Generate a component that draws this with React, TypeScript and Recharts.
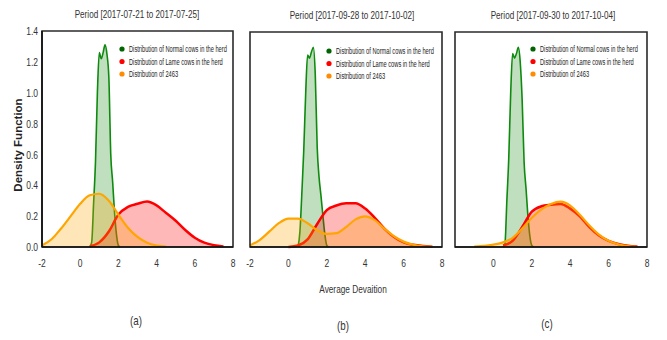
import React from "react";
import { AreaChart, Area, XAxis, YAxis, Legend, ReferenceArea } from "recharts";

const xTicks = [-2, 0, 2, 4, 6, 8];
const yTicks = [0, 0.2, 0.4, 0.6, 0.8, 1.0, 1.2, 1.4];

// fine grid for the narrow "normal cows" peak
const normalX = [0.5, 0.6, 0.7, 0.8, 0.9, 1.0, 1.1, 1.2, 1.3, 1.4, 1.5, 1.6, 1.7, 1.8, 1.9, 2.0, 2.1];
// coarse grid for the wide curves
const wideX = [-2, -1.5, -1, -0.5, 0, 0.5, 1, 1.5, 2, 2.5, 3, 3.5, 4, 4.5, 5, 5.5, 6, 6.5, 7, 7.5, 8];

const seriesNames = [
  "Distribution of Normal cows in the herd",
  "Distribution of Lame cows in the herd",
  "Distribution of 2463",
];

const panelTitles = [
  "Period [2017-07-21 to 2017-07-25]",
  "Period [2017-09-28 to 2017-10-02]",
  "Period [2017-09-30 to 2017-10-04]",
];

// (a)
const normalA = [0, 0.03, 0.28, 0.55, 1.0, 1.26, 1.22, 1.26, 1.31, 1.25, 1.1, 0.6, 0.42, 0.22, 0.08, 0.01, 0];
const lameA = [null, null, null, null, null, 0.005, 0.03, 0.1, 0.21, 0.26, 0.28, 0.295, 0.27, 0.22, 0.17, 0.11, 0.06, 0.028, 0.012, 0.004, null];
const cowA = [0.01, 0.05, 0.12, 0.2, 0.28, 0.335, 0.345, 0.3, 0.21, 0.125, 0.065, 0.028, 0.01, 0.003, null, null, null, null, null, null, null];

// (b)
const normalB = [0, 0.1, 0.35, 0.63, 1.0, 1.25, 1.23, 1.27, 1.3, 1.12, 0.65, 0.45, 0.33, 0.2, 0.08, 0.01, 0];
const lameB = [null, null, null, null, 0, 0.01, 0.05, 0.15, 0.24, 0.27, 0.285, 0.285, 0.25, 0.19, 0.12, 0.065, 0.03, 0.014, 0.006, 0.002, null];
const cowB = [0.01, 0.045, 0.1, 0.155, 0.185, 0.185, 0.155, 0.11, 0.085, 0.09, 0.13, 0.18, 0.2, 0.175, 0.12, 0.07, 0.035, 0.015, 0.005, 0.001, null];

// (c)
const normalC = [0, 0.02, 0.3, 0.58, 1.0, 1.26, 1.23, 1.26, 1.3, 1.2, 0.95, 0.55, 0.38, 0.2, 0.07, 0.01, 0];
const lameC = [null, null, null, null, null, 0.01, 0.04, 0.13, 0.23, 0.265, 0.275, 0.28, 0.25, 0.2, 0.13, 0.075, 0.04, 0.02, 0.008, 0.003, null];
const cowC = [null, null, 0.002, 0.008, 0.015, 0.03, 0.06, 0.12, 0.19, 0.245, 0.28, 0.295, 0.27, 0.21, 0.14, 0.08, 0.04, 0.018, 0.006, 0.001, null];

const dotColors = ["#006400", "#ff0000", "#ff8c00"];
const FONT = "'Liberation Sans', Arial, sans-serif";

type Row = { x: number; normal?: number; lame?: number; cow?: number };

function buildRows(normal: number[], lame: (number | null)[], cow: (number | null)[]) {
  const map = new Map<number, Row>();
  const get = (x: number) => {
    if (!map.has(x)) map.set(x, { x });
    return map.get(x)!;
  };
  normalX.forEach((x, i) => { get(x).normal = normal[i]; });
  wideX.forEach((x, i) => {
    if (lame[i] != null) get(x).lame = lame[i] as number;
    if (cow[i] != null) get(x).cow = cow[i] as number;
  });
  return [...map.values()].sort((a, b) => a.x - b.x);
}

// condensed text, squeezed horizontally like the narrow font of the original
function Narrow({ x, y, k = 0.74, size = 11, anchor = "middle", weight = "normal", fill = "#333", children }: any) {
  return (
    <g transform={`translate(${x},${y}) scale(${k},1)`}>
      <text x={0} y={0} textAnchor={anchor} fontSize={size} fontWeight={weight} fill={fill} fontFamily={FONT}>
        {children}
      </text>
    </g>
  );
}

function XTick({ x, y, payload }: any) {
  return (
    <g transform={`translate(${x},${y}) scale(0.74,1)`}>
      <text x={0} y={0} dy="0.71em" textAnchor="middle" fontSize={11.5} fill="#333" fontFamily={FONT}>
        {String(payload.value)}
      </text>
    </g>
  );
}

function YTick({ x, y, payload }: any) {
  return (
    <g transform={`translate(${x},${y}) scale(0.74,1)`}>
      <text x={0} y={0} dy="0.355em" textAnchor="end" fontSize={11.5} fill="#333" fontFamily={FONT}>
        {Number(payload.value).toFixed(1)}
      </text>
    </g>
  );
}

// legend keeps the series order (Recharts sorts its payload by name)
function LegendBox() {
  return (
    <svg width={120} height={40} style={{ display: "block", overflow: "visible" }}>
      {seriesNames.map((name, i) => (
        <g key={name}>
          <circle cx={5} cy={6 + i * 12.5} r={2.6} fill={dotColors[i]} />
          <Narrow x={12} y={9 + i * 12.5} k={0.635} size={9} anchor="start" fill="#222">
            {name}
          </Narrow>
        </g>
      ))}
    </svg>
  );
}

type PanelProps = {
  rows: Row[];
  left: number;
  width: number;
  margin: { top: number; right: number; bottom: number; left: number };
  showY: boolean;
  legendPos: { top: number; left: number };
};

function Panel({ rows, left, width, margin, showY, legendPos }: PanelProps) {
  return (
    <div style={{ position: "absolute", left, top: 0 }}>
      <AreaChart width={width} height={270} data={rows} margin={margin}>
        <XAxis
          dataKey="x"
          type="number"
          domain={[-2, 8]}
          ticks={xTicks}
          height={23}
          tickLine={false}
          tickSize={0}
          tickMargin={12}
          tick={<XTick />}
          axisLine={{ stroke: "#111", strokeWidth: 1.6 }}
        />
        <YAxis
          type="number"
          domain={[0, 1.4]}
          ticks={yTicks}
          width={showY ? 42 : 0}
          tickLine={false}
          tickSize={2}
          tickMargin={2}
          tick={showY ? <YTick /> : false}
          axisLine={{ stroke: "#111", strokeWidth: 1.6 }}
        />
        <Legend
          verticalAlign="middle"
          content={<LegendBox />}
          wrapperStyle={{ top: legendPos.top, left: legendPos.left, width: 120 }}
        />
        <Area
          dataKey="normal"
          name={seriesNames[0]}
          type="monotone"
          connectNulls
          stroke="#0f8a0f"
          strokeWidth={1.6}
          fill="#008000"
          fillOpacity={0.25}
          isAnimationActive={false}
        />
        <Area
          dataKey="lame"
          name={seriesNames[1]}
          type="monotone"
          connectNulls
          stroke="#ff0000"
          strokeWidth={2.5}
          fill="#ff0000"
          fillOpacity={0.28}
          isAnimationActive={false}
        />
        <Area
          dataKey="cow"
          name={seriesNames[2]}
          type="monotone"
          connectNulls
          stroke="#ffa500"
          strokeWidth={2.2}
          fill="#ffa500"
          fillOpacity={0.28}
          isAnimationActive={false}
        />
        <ReferenceArea x1={-2} x2={8} y1={0} y2={1.4} fill="none" stroke="#2b2b2b" strokeWidth={1.6} />
      </AreaChart>
    </div>
  );
}

export default function App() {
  return (
    <div style={{ position: "absolute", left: 0, top: 0, width: 667, height: 340, background: "#fff" }}>
      <Panel
        rows={buildRows(normalA, lameA, cowA)}
        left={0}
        width={240}
        margin={{ top: 31, right: 7, bottom: 0, left: 0 }}
        showY
        legendPos={{ top: 43, left: 117 }}
      />
      <Panel
        rows={buildRows(normalB, lameB, cowB)}
        left={240}
        width={210}
        margin={{ top: 32, right: 8, bottom: 0, left: 10 }}
        showY={false}
        legendPos={{ top: 45, left: 84 }}
      />
      <Panel
        rows={buildRows(normalC, lameC, cowC)}
        left={450}
        width={217}
        margin={{ top: 32, right: 20, bottom: 0, left: 5 }}
        showY={false}
        legendPos={{ top: 43, left: 78 }}
      />
      <svg width={667} height={340} style={{ position: "absolute", left: 0, top: 0, pointerEvents: "none" }}>
        <Narrow x={137} y={17.5}>{panelTitles[0]}</Narrow>
        <Narrow x={352} y={19}>{panelTitles[1]}</Narrow>
        <Narrow x={553} y={18.5}>{panelTitles[2]}</Narrow>
        <g transform="translate(22,145) rotate(-90)">
          <text x={0} y={0} textAnchor="middle" fontSize={11.5} fontWeight="bold" fill="#222" fontFamily={FONT}>
            Density Function
          </text>
        </g>
        <Narrow x={353} y={293} k={0.72} size={11.5}>Average Devaition</Narrow>
        <Narrow x={136} y={324.5} k={0.75} size={13}>(a)</Narrow>
        <Narrow x={343} y={329.5} k={0.75} size={13}>(b)</Narrow>
        <Narrow x={547} y={327.5} k={0.75} size={13}>(c)</Narrow>
      </svg>
    </div>
  );
}
